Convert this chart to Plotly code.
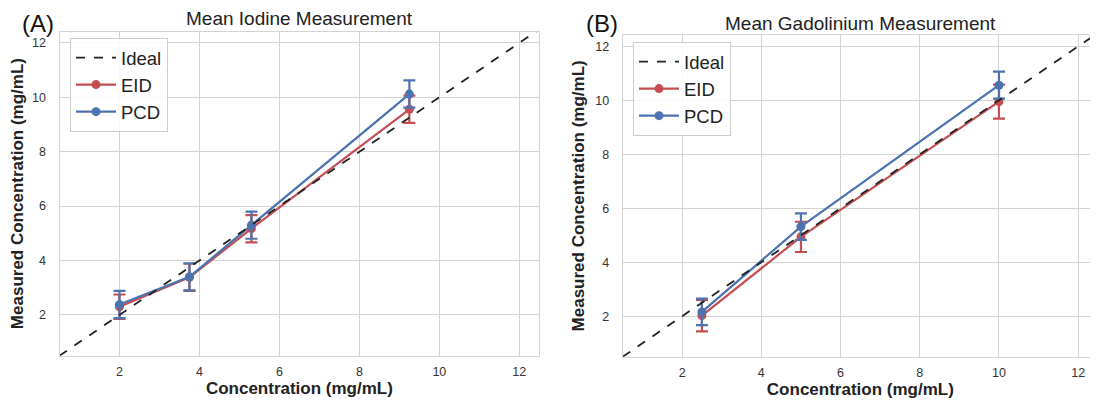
import plotly.graph_objects as go

# ---------------- data ----------------
iod_x = [2.0, 3.75, 5.3, 9.25]
iod_eid = [2.3, 3.38, 5.17, 9.56]
iod_eid_err = [0.45, 0.5, 0.5, 0.5]
iod_pcd = [2.38, 3.4, 5.3, 10.12]
iod_pcd_err = [0.5, 0.5, 0.5, 0.5]

gd_x = [2.5, 5.0, 10.0]
gd_eid = [2.02, 4.94, 9.95]
gd_eid_err = [0.58, 0.56, 0.63]
gd_pcd = [2.16, 5.32, 10.56]
gd_pcd_err = [0.49, 0.49, 0.5]

ideal = [0.5, 12.5]
ticks = [2, 4, 6, 8, 10, 12]

titles = ["Mean Iodine Measurement", "Mean Gadolinium Measurement"]
letters = ["(A)", "(B)"]
x_title = "Concentration (mg/mL)"
y_title = "Measured Concentration (mg/mL)"

RED = "#C44E52"
BLUE = "#4C72B0"
GRID = "#d3d3d3"
FONT = "Arial, 'Liberation Sans', sans-serif"

# the page body has an 8px margin: figure sized so it fills the window exactly
OFF = 8
W, H = 1098 - OFF, 409 - OFF

fig = go.Figure()

panels = [
    dict(x=iod_x, eid=iod_eid, eide=iod_eid_err, pcd=iod_pcd, pcde=iod_pcd_err,
         xa="x", ya="y", legend="legend"),
    dict(x=gd_x, eid=gd_eid, eide=gd_eid_err, pcd=gd_pcd, pcde=gd_pcd_err,
         xa="x2", ya="y2", legend="legend2"),
]

for p in panels:
    for name, ys, es, col, rank in [("EID", p["eid"], p["eide"], RED, 2),
                                    ("PCD", p["pcd"], p["pcde"], BLUE, 3)]:
        fig.add_trace(go.Scatter(
            x=p["x"], y=ys, name=name, mode="lines+markers",
            line=dict(color=col, width=2.2),
            marker=dict(color=col, size=9),
            error_y=dict(type="data", array=es, visible=True, color=col,
                         thickness=2.2, width=6),
            xaxis=p["xa"], yaxis=p["ya"], legend=p["legend"], legendrank=rank,
        ))
    fig.add_trace(go.Scatter(
        x=ideal, y=ideal, name="Ideal", mode="lines",
        line=dict(color="#222222", width=1.8, dash="dash"),
        xaxis=p["xa"], yaxis=p["ya"], legend=p["legend"], legendrank=1,
    ))

# plot-area geometry (window pixels)
A = dict(l=59.5, r=539.3, t=31.5, b=355.7)
B = dict(l=622.7, r=1098, t=35, b=356.7)


def px(v):
    return (v - OFF) / W


def py(v):
    return 1 - (v - OFF) / H


axis_common = dict(
    showgrid=True, gridcolor=GRID, gridwidth=1.2,
    showline=True, linecolor=GRID, linewidth=1.2, mirror=True,
    zeroline=False, tickvals=ticks, ticks="", automargin=False,
    tickfont=dict(family=FONT, size=12.5, color="#333333"),
    title_font=dict(family=FONT, size=17, color="#222222"),
)

legend_common = dict(
    xanchor="left", yanchor="top",
    bordercolor="#cccccc", borderwidth=1,
    bgcolor="rgba(255,255,255,0.85)",
    font=dict(family=FONT, size=18.5, color="#222222"),
    traceorder="normal", itemwidth=40,
)

fig.update_layout(
    width=W, height=H,
    margin=dict(l=0, r=0, t=0, b=0),
    paper_bgcolor="white", plot_bgcolor="white",
    font=dict(family=FONT, color="#222222"),
    xaxis=dict(domain=[px(A["l"]), px(A["r"])], anchor="y", range=[0.5, 12.5],
               title=dict(text="<b>" + x_title + "</b>", standoff=4),
               ticklabelstandoff=4, **axis_common),
    yaxis=dict(domain=[py(A["b"]), py(A["t"])], anchor="x", range=[0.5, 12.42],
               title=dict(text="<b>" + y_title + "</b>", standoff=6),
               ticklabelstandoff=10, **axis_common),
    xaxis2=dict(domain=[px(B["l"]), min(1.0, px(B["r"]))], anchor="y2", range=[0.5, 12.5],
                title=dict(text="<b>" + x_title + "</b>", standoff=4),
                ticklabelstandoff=4, **axis_common),
    yaxis2=dict(domain=[py(B["b"]), py(B["t"])], anchor="x2", range=[0.5, 12.42],
                title=dict(text="<b>" + y_title + "</b>", standoff=6),
                ticklabelstandoff=10, **axis_common),
    legend=dict(x=px(70), y=py(38), **legend_common),
    legend2=dict(x=px(633), y=py(42), **legend_common),
    showlegend=True,
)

annos = []
for g, t, letter, ty, lx, ly in [(A, titles[0], letters[0], 19, 38, 24),
                                 (B, titles[1], letters[1], 23, 602, 23)]:
    annos.append(dict(x=px((g["l"] + g["r"]) / 2), y=py(ty), xref="paper", yref="paper",
                      text=t, showarrow=False, xanchor="center", yanchor="middle",
                      font=dict(family=FONT, size=19, color="#222222")))
    annos.append(dict(x=px(lx), y=py(ly), xref="paper", yref="paper",
                      text=letter, showarrow=False, xanchor="center", yanchor="middle",
                      font=dict(family=FONT, size=24, color="#111111")))
fig.update_layout(annotations=annos)

fig.write_html("out.html")
